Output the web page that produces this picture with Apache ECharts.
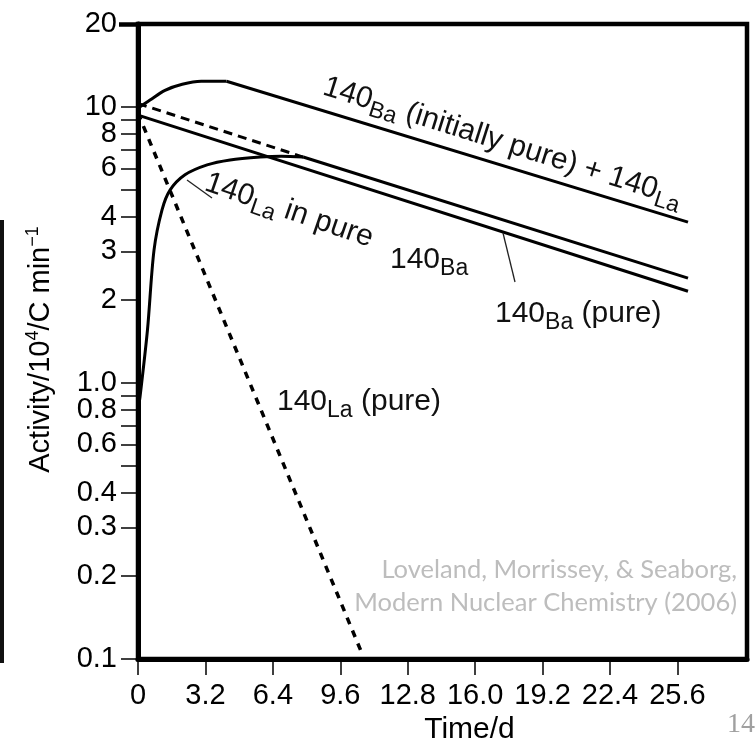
<!DOCTYPE html>
<html>
<head>
<meta charset="utf-8">
<script src="https://cdn.jsdelivr.net/npm/echarts@6/dist/echarts.min.js"></script>
<style>
  html, body { margin: 0; padding: 0; background: #fff; }
  #chart { width: 756px; height: 749px; }
</style>
</head>
<body>
<div id="chart"></div>
<script>
// Time axis (days)
const timeTicks = [0, 3.2, 6.4, 9.6, 12.8, 16.0, 19.2, 22.4, 25.6];
const timeTickLabels = ['0', '3.2', '6.4', '9.6', '12.8', '16.0', '19.2', '22.4', '25.6'];

// Activity axis (10^4 counts per minute): labelled and unlabelled ticks
const activityTicks = [20, 10, 8, 6, 4, 3, 2, 1, 0.8, 0.6, 0.4, 0.3, 0.2, 0.1];
const activityTickLabels = ['20', '10', '8', '6', '4', '3', '2', '1.0', '0.8', '0.6', '0.4', '0.3', '0.2', '0.1'];
const activityMinorTicks = [9, 7, 5, 0.9, 0.7, 0.5];

// 140Ba (initially pure) + 140La: growth of the total activity ...
const totalRiseTime = [0, 0.57, 1.28, 2.1, 3.0, 4.2];
const totalRiseActivity = [9.9, 10.6, 11.5, 12.1, 12.4, 12.4];
// ... then the straight decay once equilibrium is reached
const totalDecayTime = [4.2, 26.1];
const totalDecayActivity = [12.4, 3.83];

// 140Ba alone in the pure fraction
const baTime = [0, 26.1];
const baActivity = [9.35, 2.15];

// 140La growing into pure 140Ba ...
const laGrowTime = [0, 0.095, 0.45, 0.76, 1.14, 1.52, 2.23, 3.28, 4.37, 5.8, 6.8, 7.84];
const laGrowActivity = [0.8, 0.89, 1.56, 3.03, 4.24, 5.0, 5.68, 6.17, 6.43, 6.59, 6.64, 6.59];
// ... and decaying in transient equilibrium
const laEquilTime = [7.84, 26.1];
const laEquilActivity = [6.59, 2.40];

// 140La equilibrium line extended back to t = 0
const laExtrapTime = [0, 7.84];
const laExtrapActivity = [10.3, 6.59];

// freshly separated 140La
const laPureTime = [0, 10.6];
const laPureActivity = [9.5, 0.106];

const FONT = '"Liberation Sans", Arial, Helvetica, sans-serif';

function pairs(xs, ys) {
  return xs.map((x, i) => [x, ys[i]]);
}
function lookupLabel(values, labels, v) {
  for (let i = 0; i < values.length; i++) {
    if (Math.abs(values[i] - v) <= 1e-6 * Math.max(1, Math.abs(v))) return labels[i];
  }
  return '';
}

function curve(name, xs, ys, opts) {
  return Object.assign({
    name: name,
    type: 'line',
    data: pairs(xs, ys),
    showSymbol: false,
    symbol: 'none',
    silent: true,
    z: 3,
    lineStyle: { color: '#000', width: 3 }
  }, opts || {});
}

// isotope labels: mass number followed by a lowered element symbol
const isoRich = {
  s: { fontSize: 23, fontFamily: FONT, fill: '#111', verticalAlign: 'bottom' }
};
function isoText(x, y, text, rotDeg) {
  return {
    type: 'text',
    x: x,
    y: y,
    rotation: (rotDeg || 0) * Math.PI / 180,
    silent: true,
    z: 10,
    style: {
      text: text,
      fontSize: 30,
      fontFamily: FONT,
      fill: '#111',
      lineHeight: 40,
      align: 'left',
      verticalAlign: 'middle',
      rich: isoRich
    }
  };
}
function leader(x1, y1, x2, y2) {
  return {
    type: 'line',
    silent: true,
    z: 10,
    shape: { x1: x1, y1: y1, x2: x2, y2: y2 },
    style: { stroke: '#222', lineWidth: 1.3 }
  };
}

const chart = echarts.init(document.getElementById('chart'), null, { renderer: 'canvas' });

chart.setOption({
  animation: false,
  backgroundColor: '#fff',
  grid: {
    left: 138, top: 24, width: 609, height: 635,
    show: true, borderColor: '#000', borderWidth: 4.5,
    containLabel: false, outerBoundsMode: 'none'
  },
  xAxis: {
    type: 'value',
    min: 0,
    max: 28.9,
    axisLine: { show: true, onZero: false, lineStyle: { color: '#000', width: 5 } },
    axisTick: { show: true, inside: false, length: 16, customValues: timeTicks, lineStyle: { color: '#000', width: 1.5 } },
    axisLabel: {
      customValues: timeTicks,
      margin: 22,
      fontSize: 29,
      fontFamily: FONT,
      color: '#000',
      formatter: v => lookupLabel(timeTicks, timeTickLabels, v)
    },
    splitLine: { show: false },
    name: 'Time/d',
    nameLocation: 'middle',
    nameGap: 56,
    nameTextStyle: { fontSize: 30, fontFamily: FONT, color: '#000', padding: [0, 0, 0, 54] }
  },
  yAxis: [{
    type: 'log',
    logBase: 10,
    min: 0.1,
    max: 20,
    axisLine: { show: true, onZero: false, lineStyle: { color: '#000', width: 5 } },
    axisTick: {
      show: true, inside: false, length: 17,
      customValues: activityTicks.concat(activityMinorTicks),
      lineStyle: { color: '#000', width: 1.5 }
    },
    minorTick: { show: false },
    axisLabel: {
      customValues: activityTicks,
      margin: 21,
      fontSize: 29,
      fontFamily: FONT,
      color: '#000',
      formatter: v => lookupLabel(activityTicks, activityTickLabels, v)
    },
    splitLine: { show: false },
    name: 'Activity/10{sup|4}/C min{sup|\u22121}',
    nameLocation: 'middle',
    nameRotate: 90,
    nameGap: 80,
    nameTextStyle: {
      fontSize: 29, fontFamily: FONT, color: '#000', lineHeight: 34,
      padding: [0, 16, 0, 0],
      rich: { sup: { fontSize: 18, fontFamily: FONT, color: '#000', verticalAlign: 'top' } }
    }
  }, {
    // heavy tick at the top of the activity scale
    type: 'log',
    logBase: 10,
    min: 0.1,
    max: 20,
    position: 'left',
    axisLine: { show: false },
    axisTick: { show: true, inside: false, length: 19, customValues: [20], lineStyle: { color: '#000', width: 4.5 } },
    axisLabel: { show: false },
    splitLine: { show: false }
  }],
  series: [
    curve('140Ba (initially pure) + 140La, growth', totalRiseTime, totalRiseActivity, { smooth: 0.3 }),
    curve('140Ba (initially pure) + 140La, decay', totalDecayTime, totalDecayActivity),
    curve('140Ba (pure)', baTime, baActivity),
    curve('140La in pure 140Ba, growth', laGrowTime, laGrowActivity, { smooth: 0.3 }),
    curve('140La in pure 140Ba, equilibrium', laEquilTime, laEquilActivity),
    curve('140La equilibrium (extrapolated)', laExtrapTime, laExtrapActivity,
      { lineStyle: { color: '#000', width: 3, type: [9, 6] } }),
    curve('140La (pure)', laPureTime, laPureActivity,
      { lineStyle: { color: '#000', width: 3.5, type: [7, 7] } })
  ],
  graphic: [
    // slide edge
    { type: 'rect', silent: true, shape: { x: 0, y: 220, width: 4, height: 443 }, style: { fill: '#111' } },
    // curve labels
    isoText(324, 86, '140{s|Ba} (initially pure) + 140{s|La}', -17.5),
    isoText(206, 182, '140{s|La} in pure', -19),
    isoText(390, 260, '140{s|Ba}'),
    isoText(495, 314, '140{s|Ba} (pure)'),
    isoText(277, 402, '140{s|La} (pure)'),
    leader(187, 180, 212, 198),
    leader(503, 233, 515, 282),
    // source note
    {
      type: 'text', silent: true, z: 10, x: 737, y: 570,
      style: { text: 'Loveland, Morrissey, & Seaborg,', fontSize: 25.5, fontFamily: 'Lato, "Open Sans", sans-serif', fill: '#bdbdbd', align: 'right', verticalAlign: 'middle' }
    },
    {
      type: 'text', silent: true, z: 10, x: 737, y: 603,
      style: { text: 'Modern Nuclear Chemistry (2006)', fontSize: 25.5, fontFamily: 'Lato, "Open Sans", sans-serif', fill: '#bdbdbd', align: 'right', verticalAlign: 'middle' }
    },
    // page number
    {
      type: 'text', silent: true, z: 10, x: 727, y: 725,
      style: { text: '14', fontSize: 28, fontFamily: '"Liberation Serif", "DejaVu Serif", serif', fill: '#a0a0a0', align: 'left', verticalAlign: 'middle' }
    }
  ]
});
</script>
</body>
</html>
